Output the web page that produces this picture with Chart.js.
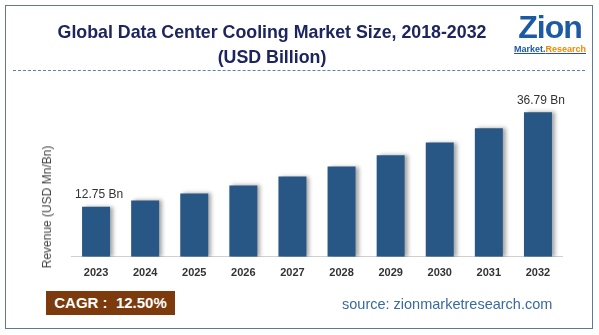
<!DOCTYPE html>
<html lang="en">
<head>
  <meta charset="UTF-8" />
  <title>Global Data Center Cooling Market Size</title>
  <script src="https://cdn.jsdelivr.net/npm/chart.js"></script>
  <style>
    body { margin: 0; background: #fff; font-family: "Liberation Sans", Arial, sans-serif; }
    #wrap { position: relative; width: 599px; height: 335px; overflow: hidden; }
    #frame { position: absolute; left: 5px; top: 5px; width: 586px; height: 322px; border: 1.5px solid #5f7898; }
    #chart { position: absolute; left: 0; top: 0; }
    .title { position: absolute; left: 0; width: 544px; text-align: center; color: #1d2560; font-weight: bold; font-size: 17.8px; }
    #dash { position: absolute; left: 13px; top: 70px; width: 572px; border-top: 1px dashed #5b7fb8; }
    #logo { position: absolute; left: 512px; top: 10px; width: 76px; text-align: center; }
    #logo .zion { font: bold 32px "Liberation Sans", Arial, sans-serif; color: #1c5aa6; letter-spacing: -1px; line-height: 34px; }
    #logo .mr { font: bold 9px "Liberation Sans", Arial, sans-serif; text-decoration: underline; color: #1c5aa6; }
    #logo .mr span { color: #f08a00; }
    #ytitle { position: absolute; left: 47px; top: 207px; transform: translate(-50%, -50%) rotate(-90deg);
              white-space: nowrap; color: #444; font-size: 12px; }
    #cagr { position: absolute; left: 46px; top: 291px; width: 129px; height: 24px; background: #7c3a0d; color: #fff;
            font-weight: bold; font-size: 15px; line-height: 24px; text-align: center; }
    #source { position: absolute; left: 342px; top: 296px; color: #3b6aa0; font-size: 14.5px; }
  </style>
</head>
<body>
<div id="wrap">
  <div id="frame"></div>
  <canvas id="chart" width="599" height="335"></canvas>
  <div class="title" style="top:22px">Global Data Center Cooling Market Size, 2018-2032</div>
  <div class="title" style="top:47px">(USD Billion)</div>
  <div id="dash"></div>
  <div id="logo">
    <div class="zion">Zion</div>
    <div class="mr">Market.<span>Research</span></div>
  </div>
  <div id="ytitle">Revenue (USD Mn/Bn)</div>
  <div id="cagr">CAGR :&nbsp; 12.50%</div>
  <div id="source">source: zionmarketresearch.com</div>
</div>
<script>
  const years = ['2023', '2024', '2025', '2026', '2027', '2028', '2029', '2030', '2031', '2032'];
  const revenue = [12.75, 14.34, 16.13, 18.15, 20.42, 22.97, 25.84, 29.07, 32.70, 36.79];
  const shownLabels = { 0: '12.75 Bn', 9: '36.79 Bn' };

  // soft shadow on the right side of each bar
  const barShadow = {
    id: 'barShadow',
    beforeDatasetsDraw(chart) {
      const ctx = chart.ctx;
      ctx.save();
      ctx.shadowColor = 'rgba(0,0,0,0.35)';
      ctx.shadowBlur = 4;
      ctx.shadowOffsetX = 3;
      ctx.shadowOffsetY = 0;
    },
    afterDatasetsDraw(chart) {
      chart.ctx.restore();
    }
  };

  const endLabels = {
    id: 'endLabels',
    afterDatasetsDraw(chart) {
      const ctx = chart.ctx;
      const meta = chart.getDatasetMeta(0);
      ctx.save();
      ctx.font = '12px "Liberation Sans", Arial, sans-serif';
      ctx.fillStyle = '#333';
      ctx.textAlign = 'center';
      ctx.textBaseline = 'bottom';
      Object.keys(shownLabels).forEach(i => {
        const bar = meta.data[i];
        ctx.fillText(shownLabels[i], bar.x + 3, bar.y - 6);
      });
      ctx.restore();
    }
  };

  new Chart(document.getElementById('chart'), {
    type: 'bar',
    data: {
      labels: years,
      datasets: [{ data: revenue, backgroundColor: '#285785', barPercentage: 0.57, categoryPercentage: 1 }]
    },
    options: {
      responsive: false,
      animation: false,
      layout: { padding: { left: 71.5, right: 36.5, top: 80, bottom: 53 } },
      plugins: { legend: { display: false }, tooltip: { enabled: false } },
      scales: {
        x: {
          grid: { display: false },
          border: { display: true, color: '#d0d0d0', width: 1 },
          ticks: { padding: 2, color: '#333', font: { family: '"Liberation Sans", Arial, sans-serif', size: 11, weight: 'bold' } }
        },
        y: { display: false, min: 0, max: 45 }
      }
    },
    plugins: [barShadow, endLabels]
  });
</script>
</body>
</html>
